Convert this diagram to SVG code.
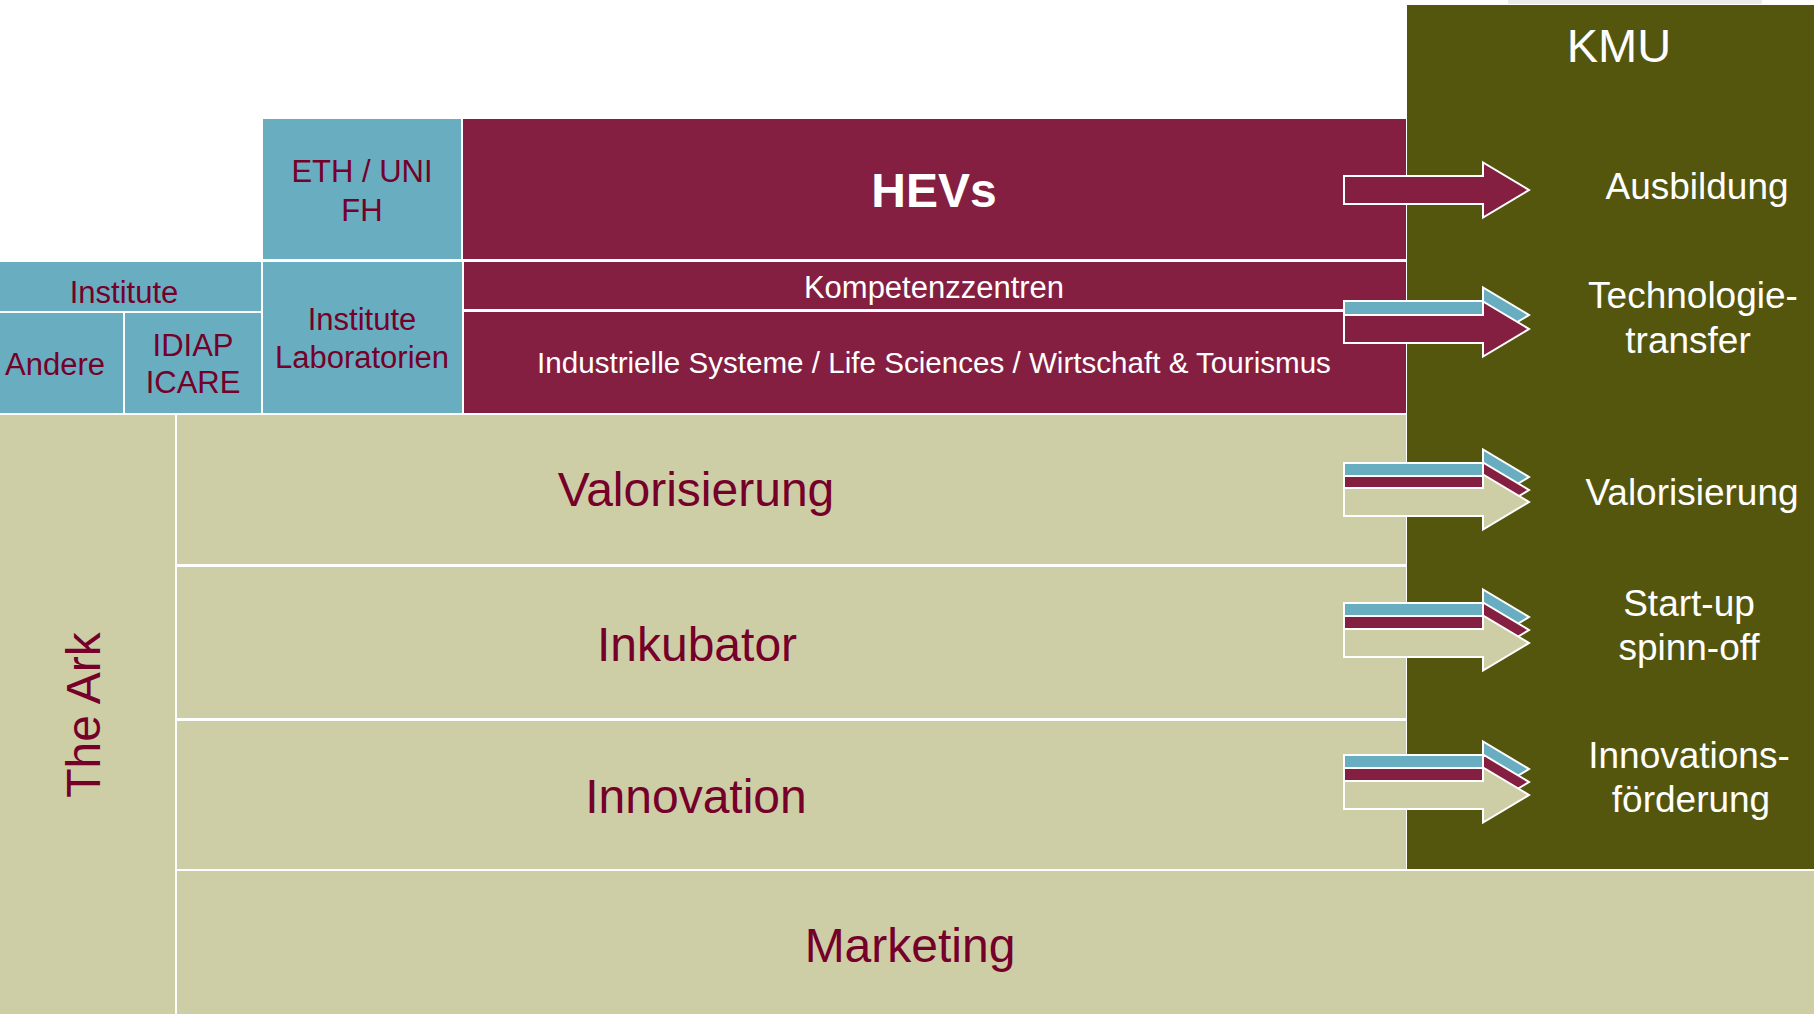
<svg xmlns="http://www.w3.org/2000/svg" width="1814" height="1014" viewBox="0 0 1814 1014">
<style>
.teal{fill:#68aec0}
.mar{fill:#841f42}
.olive{fill:#55560e}
.beige{fill:#cecea6}
text{font-family:"Liberation Sans",Arial,sans-serif;text-anchor:middle}
.dk{fill:#75002a}
.wt{fill:#ffffff}
.arr{stroke:#ffffff;stroke-width:2;stroke-linejoin:miter}
</style>
<defs>
<path id="arrow" d="M0,-14 H139 V-27.5 L185,0 L139,27.5 V14 H0 Z"/>
</defs>
<rect x="0" y="0" width="1814" height="1014" fill="#ffffff"/>
<rect x="1508" y="0" width="254" height="4" fill="#ebebeb"/>

<g id="kmu">
<rect class="olive" x="1407" y="5" width="407" height="864"/>
<text class="wt" x="1619" y="62" font-size="47">KMU</text>
<text class="wt" x="1697" y="199" font-size="37">Ausbildung</text>
<text class="wt" x="1693" y="308" font-size="37">Technologie-</text>
<text class="wt" x="1688" y="353" font-size="37">transfer</text>
<text class="wt" x="1692" y="505" font-size="37">Valorisierung</text>
<text class="wt" x="1689" y="616" font-size="37">Start-up</text>
<text class="wt" x="1689" y="660" font-size="37">spinn-off</text>
<text class="wt" x="1689" y="768" font-size="37">Innovations-</text>
<text class="wt" x="1691" y="812" font-size="37">förderung</text>
</g>

<g id="eth">
<rect class="teal" x="263" y="119" width="198" height="140"/>
<text class="dk" x="362" y="182" font-size="31">ETH / UNI</text>
<text class="dk" x="362" y="221" font-size="31">FH</text>
</g>
<g id="hevs">
<rect class="mar" x="463" y="119" width="943" height="140"/>
<text class="wt" x="934" y="207" font-size="48" font-weight="bold">HEVs</text>
</g>
<g id="institute">
<rect class="teal" x="0" y="262" width="261" height="49"/>
<text class="dk" x="124" y="303" font-size="31">Institute</text>
</g>
<g id="andere">
<rect class="teal" x="0" y="313" width="123" height="100"/>
<text class="dk" x="55" y="375" font-size="31">Andere</text>
</g>
<g id="idiap">
<rect class="teal" x="125" y="313" width="136" height="100"/>
<text class="dk" x="193" y="356" font-size="31">IDIAP</text>
<text class="dk" x="193" y="393" font-size="31">ICARE</text>
</g>
<g id="institute-lab">
<rect class="teal" x="263" y="262" width="199" height="151"/>
<text class="dk" x="362" y="330" font-size="31">Institute</text>
<text class="dk" x="362" y="368" font-size="31">Laboratorien</text>
</g>
<g id="kompetenz">
<rect class="mar" x="464" y="262" width="942" height="47"/>
<text class="wt" x="934" y="298" font-size="31">Kompetenzzentren</text>
</g>
<g id="industrie">
<rect class="mar" x="464" y="312" width="942" height="101"/>
<text class="wt" x="934" y="373" font-size="29.6">Industrielle Systeme / Life Sciences / Wirtschaft &amp; Tourismus</text>
</g>
<g id="ark">
<rect class="beige" x="0" y="415" width="175" height="599"/>
<text class="dk" font-size="48" transform="translate(100,715) rotate(-90)">The Ark</text>
</g>
<g id="valorisierung">
<rect class="beige" x="177" y="415" width="1229" height="149"/>
<text class="dk" x="696" y="506" font-size="48">Valorisierung</text>
</g>
<g id="inkubator">
<rect class="beige" x="177" y="567" width="1229" height="151"/>
<text class="dk" x="697" y="661" font-size="48">Inkubator</text>
</g>
<g id="innovation">
<rect class="beige" x="177" y="721" width="1229" height="148"/>
<text class="dk" x="696" y="813" font-size="48">Innovation</text>
</g>
<g id="marketing">
<rect class="beige" x="177" y="871" width="1637" height="143"/>
<text class="dk" x="910" y="962" font-size="48">Marketing</text>
</g>

<g id="connectors">
<use href="#arrow" class="arr mar" x="1344" y="190"/>
<use href="#arrow" class="arr teal" x="1344" y="315"/>
<use href="#arrow" class="arr mar" x="1344" y="329"/>
<use href="#arrow" class="arr teal" x="1344" y="477"/>
<use href="#arrow" class="arr mar" x="1344" y="490"/>
<use href="#arrow" class="arr beige" x="1344" y="502"/>
<use href="#arrow" class="arr teal" x="1344" y="617"/>
<use href="#arrow" class="arr mar" x="1344" y="630"/>
<use href="#arrow" class="arr beige" x="1344" y="643"/>
<use href="#arrow" class="arr teal" x="1344" y="769"/>
<use href="#arrow" class="arr mar" x="1344" y="782"/>
<use href="#arrow" class="arr beige" x="1344" y="795"/>
</g>
</svg>
